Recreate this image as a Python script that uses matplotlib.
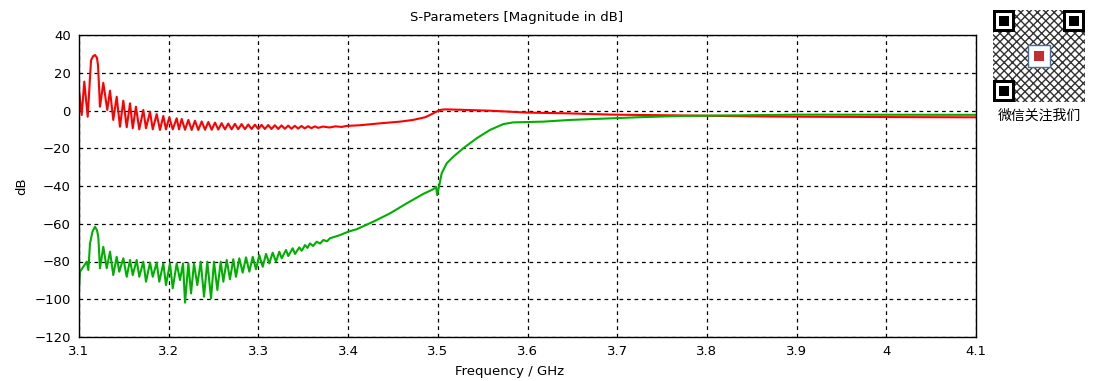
import matplotlib.pyplot as plt
from matplotlib.patches import Rectangle

plt.rcParams['font.family'] = ['DejaVu Sans', 'Noto Sans CJK SC']

# S11 (red) - frequency in GHz, magnitude in dB
f_red = [3.1000, 3.1030, 3.1059, 3.1097, 3.1111, 3.1134, 3.1156, 3.1178, 3.1200, 3.1212,
         3.1234, 3.1271, 3.1315, 3.1346, 3.1382, 3.1420, 3.1457, 3.1494, 3.1532, 3.1569,
         3.1599, 3.1635, 3.1672, 3.1717, 3.1747, 3.1792, 3.1822, 3.1866, 3.1903, 3.1940,
         3.1970, 3.2007, 3.2045, 3.2089, 3.2115,
         3.2145, 3.2182, 3.2219, 3.2256, 3.2293, 3.2330, 3.2368, 3.2405, 3.2442, 3.2479,
         3.2516, 3.2553, 3.2590, 3.2627, 3.2664, 3.2701, 3.2738, 3.2775, 3.2813, 3.2850,
         3.2887, 3.2924, 3.2961, 3.2998, 3.3035, 3.3072, 3.3109, 3.3146, 3.3184, 3.3221,
         3.3258, 3.3295, 3.3332, 3.3369, 3.3406, 3.3443, 3.3480, 3.3517, 3.3554, 3.3591,
         3.3629, 3.3666, 3.3720, 3.3790, 3.3860, 3.3930,
         3.3980, 3.4133, 3.4356, 3.4579, 3.4723, 3.4857, 3.4913, 3.4969, 3.5025, 3.5080,
         3.5247, 3.5582, 3.5994, 3.6440, 3.6953, 3.7700, 3.8480, 3.9038, 3.9595, 4.0153, 4.1000]
s11 = [10.9, -2.4, 15.3, -3.3, 8.0, 26.5, 28.7, 29.4, 28.0, 24.0,
       2.0, 14.7, 0.3, 10.5, -5.0, 7.3, -8.6, 5.2, -8.9, 3.8,
       -9.4, 2.0, -10.0, 0.3, -9.4, -0.6, -10.0, -1.9, -10.3, -2.9,
       -10.0, -3.6, -10.0, -4.1, -10.0,
       -4.5, -10.2, -5.0, -10.3, -5.4, -10.3, -5.8, -10.2, -6.1, -10.2,
       -6.4, -10.1, -6.7, -10.0, -6.9, -10.0, -7.1, -9.9, -7.2, -9.9,
       -7.4, -9.8, -7.5, -9.8, -7.6, -9.8, -7.7, -9.8, -7.8, -9.8,
       -7.9, -9.7, -8.0, -9.7, -8.1, -9.6, -8.2, -9.5, -8.3, -9.4,
       -8.4, -9.2, -8.5, -9.0, -8.4, -8.7,
       -8.2, -7.8, -6.8, -5.9, -5.0, -3.6, -2.4, -1.0, 0.3, 0.6,
       0.4, -0.1, -1.1, -1.5, -2.2, -2.6, -3.1, -3.3, -3.4, -3.5, -3.6]

# S21 (green)
f_green = [3.1000, 3.1011, 3.1048, 3.1086, 3.1104, 3.1123, 3.1151, 3.1178, 3.1201, 3.1215,
           3.1234, 3.1271, 3.1309, 3.1346, 3.1382, 3.1420, 3.1449, 3.1494, 3.1532, 3.1569,
           3.1599, 3.1643, 3.1672, 3.1717, 3.1747, 3.1792, 3.1822, 3.1866, 3.1895, 3.1940,
           3.1970, 3.2014, 3.2045, 3.2089, 3.2126, 3.2160,
           3.2182, 3.2219, 3.2249, 3.2282, 3.2319, 3.2357, 3.2394, 3.2430, 3.2472, 3.2505,
           3.2542, 3.2580, 3.2609, 3.2647, 3.2683, 3.2720, 3.2750, 3.2787, 3.2825, 3.2862,
           3.2899, 3.2937, 3.2973, 3.3010, 3.3048, 3.3085, 3.3122, 3.3159, 3.3196, 3.3233,
           3.3260, 3.3308, 3.3333, 3.3382, 3.3408, 3.3456, 3.3483, 3.3520, 3.3547, 3.3575,
           3.3609, 3.3650, 3.3687, 3.3724, 3.3765, 3.3798, 3.3910, 3.4002, 3.4096, 3.4281,
           3.4467, 3.4653, 3.4838, 3.4950, 3.4980, 3.4994, 3.5017, 3.5043, 3.5099, 3.5173,
           3.5284, 3.5434, 3.5582, 3.5730, 3.5842, 3.6176, 3.6474, 3.6957, 3.7220, 3.7700,
           3.8068, 3.9038, 4.1000]
s21 = [-95.1, -85.4, -82.8, -80.1, -84.5, -70.4, -64.0, -61.6, -63.5, -66.9,
       -83.6, -72.2, -83.6, -74.8, -87.2, -77.5, -85.4, -78.3, -88.1, -79.2,
       -87.2, -79.2, -88.1, -80.1, -90.7, -80.6, -88.1, -80.6, -90.7, -81.0,
       -92.5, -81.0, -94.2, -81.0, -89.8, -81.0,
       -101.8, -81.0, -96.9, -81.0, -92.5, -80.1, -98.6, -80.1, -99.5, -80.1,
       -95.1, -80.1, -90.7, -79.2, -89.4, -78.8, -88.1, -78.3, -85.9, -77.8,
       -85.4, -77.5, -84.1, -76.6, -82.8, -76.0, -81.0, -75.3, -80.1, -74.8,
       -78.3, -73.9, -77.1, -73.0, -76.0, -72.5, -74.3, -71.3, -72.8, -70.4,
       -71.8, -69.5, -70.5, -68.6, -69.3, -67.7, -66.0, -64.2, -62.9, -58.9,
       -54.5, -49.2, -44.2, -41.7, -40.4, -44.8, -39.5, -33.3, -28.0, -24.5,
       -20.0, -14.7, -10.3, -7.2, -6.3, -5.9, -5.0, -4.1, -3.6, -2.9,
       -2.7, -2.2, -2.3]

x_ticks = [3.1, 3.2, 3.3, 3.4, 3.5, 3.6, 3.7, 3.8, 3.9, 4, 4.1]
x_tick_labels = ["3.1", "3.2", "3.3", "3.4", "3.5", "3.6", "3.7", "3.8", "3.9", "4", "4.1"]
y_ticks = [40, 20, 0, -20, -40, -60, -80, -100, -120]

fig = plt.figure(figsize=(10.94, 3.81), dpi=100)
ax = fig.add_axes([79/1094, 1-337/381, 897/1094, 302/381])

ax.plot(f_red, s11, color="#ff0000", lw=1.5)
ax.plot(f_green, s21, color="#00b000", lw=1.5)

ax.set_xlim(3.1, 4.1)
ax.set_ylim(-120, 40)
ax.set_xticks(x_ticks)
ax.set_xticklabels(x_tick_labels)
ax.set_yticks(y_ticks)
ax.tick_params(length=0, pad=6, labelsize=9.5, colors="black")
ax.grid(True, color="black", linestyle=(0, (3, 3)), linewidth=0.9)
for s in ax.spines.values():
    s.set_linewidth(1.0)

fig.text(517/1094, 1-17/381, "S-Parameters [Magnitude in dB]", ha="center", va="center", fontsize=9.5)
fig.text(510/1094, 1-372/381, "Frequency / GHz", ha="center", va="center", fontsize=9.5)
fig.text(22/1094, 1-186/381, "dB", ha="center", va="center", rotation=90, fontsize=9.5)

# QR code block (placeholder pattern) + caption
qax = fig.add_axes([993/1094, 1-102/381, 92/1094, 92/381])
qax.set_xlim(0, 29)
qax.set_ylim(0, 29)
qax.axis("off")
qax.add_patch(Rectangle((0, 0), 29, 29, facecolor="white", edgecolor="#333333", hatch="xxxx", lw=0))
for (x0, y0) in [(0, 22), (22, 22), (0, 0)]:
    qax.add_patch(Rectangle((x0, y0), 7, 7, facecolor="black", lw=0))
    qax.add_patch(Rectangle((x0+1, y0+1), 5, 5, facecolor="white", lw=0))
    qax.add_patch(Rectangle((x0+2, y0+2), 3, 3, facecolor="black", lw=0))
qax.add_patch(Rectangle((11, 11), 7, 7, facecolor="white", edgecolor="#3a6fb0", lw=1))
qax.add_patch(Rectangle((13, 13), 3, 3, facecolor="#c03030", lw=0))
fig.text(1039/1094, 1-116/381, "微信关注我们", ha="center", va="center", fontsize=10,
         family=["Noto Sans CJK SC", "DejaVu Sans"])

plt.savefig("out.png", dpi=100)
